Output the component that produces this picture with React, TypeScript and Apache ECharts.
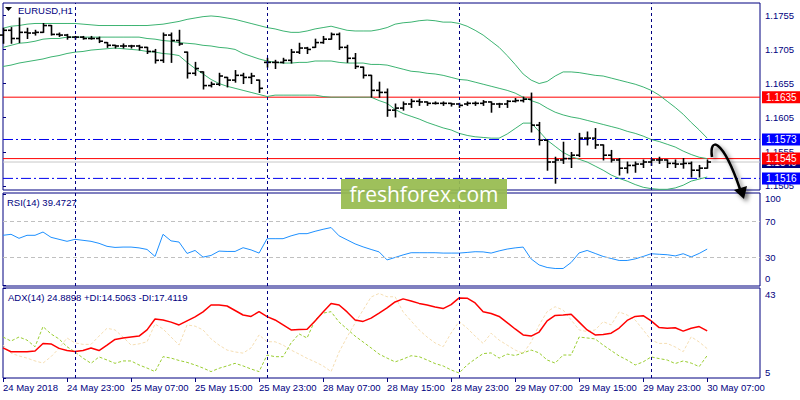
import React, { useEffect, useRef } from "react";
import * as echarts from "echarts";

const FONT = "'Liberation Sans', Arial, sans-serif";
const NAVY = "#000080";

// ---- time axis ----
const tickIndex = [0, 8, 16, 24, 32, 40, 48, 56, 64, 72, 80, 88];
const tickLabels = [
  "24 May 2018", "24 May 23:00", "25 May 07:00", "25 May 15:00", "25 May 23:00", "28 May 07:00",
  "28 May 15:00", "28 May 23:00", "29 May 07:00", "29 May 15:00", "29 May 23:00", "30 May 07:00",
];
const dayStartIndex = [9, 33, 57, 81];

// ---- price panel ----
const opens = [
  1.1726, 1.1733, 1.1721, 1.1730, 1.1729, 1.1730, 1.1740, 1.1727, 1.1726, 1.1723,
  1.1723, 1.1721, 1.1721, 1.1715, 1.1711, 1.1710, 1.1710, 1.1710, 1.1708, 1.1702,
  1.1689, 1.1726, 1.1718, 1.1701, 1.1670, 1.1672, 1.1652, 1.1654, 1.1664, 1.1660,
  1.1667, 1.1664, 1.1660, 1.1686, 1.1686, 1.1686, 1.1689, 1.1701, 1.1707, 1.1708,
  1.1715, 1.1720, 1.1727, 1.1708, 1.1692, 1.1679, 1.1667, 1.1645, 1.1642, 1.1616,
  1.1619, 1.1625, 1.1629, 1.1628, 1.1626, 1.1626, 1.1626, 1.1625, 1.1625, 1.1626,
  1.1626, 1.1628, 1.1625, 1.1625, 1.1629, 1.1630, 1.1632, 1.1594, 1.1572, 1.1540,
  1.1543, 1.1545, 1.1550, 1.1575, 1.1575, 1.1565, 1.1550, 1.1543, 1.1531, 1.1535,
  1.1537, 1.1540, 1.1543, 1.1543, 1.1538, 1.1537, 1.1538, 1.1528, 1.1531,
];
const highs = [
  1.1736, 1.1737, 1.1751, 1.1736, 1.1733, 1.1743, 1.1740, 1.1729, 1.1727, 1.1724,
  1.1724, 1.1724, 1.1723, 1.1715, 1.1711, 1.1713, 1.1711, 1.1711, 1.1708, 1.1705,
  1.1729, 1.1729, 1.1733, 1.1701, 1.1686, 1.1672, 1.1657, 1.1670, 1.1664, 1.1674,
  1.1670, 1.1670, 1.1660, 1.1692, 1.1689, 1.1692, 1.1705, 1.1714, 1.1708, 1.1720,
  1.1724, 1.1729, 1.1729, 1.1711, 1.1699, 1.1679, 1.1667, 1.1657, 1.1647, 1.1625,
  1.1628, 1.1632, 1.1632, 1.1628, 1.1628, 1.1628, 1.1626, 1.1626, 1.1628, 1.1628,
  1.1630, 1.1628, 1.1626, 1.1630, 1.1633, 1.1635, 1.1641, 1.1598, 1.1572, 1.1547,
  1.1569, 1.1554, 1.1582, 1.1584, 1.1589, 1.1565, 1.1557, 1.1545, 1.1540, 1.1540,
  1.1543, 1.1545, 1.1547, 1.1543, 1.1543, 1.1545, 1.1540, 1.1535, 1.1543,
];
const lows = [
  1.1714, 1.1714, 1.1715, 1.1721, 1.1726, 1.1730, 1.1726, 1.1724, 1.1720, 1.1720,
  1.1720, 1.1720, 1.1715, 1.1708, 1.1707, 1.1707, 1.1707, 1.1704, 1.1699, 1.1685,
  1.1686, 1.1686, 1.1711, 1.1663, 1.1667, 1.1647, 1.1650, 1.1652, 1.1650, 1.1657,
  1.1655, 1.1655, 1.1642, 1.1679, 1.1677, 1.1685, 1.1685, 1.1699, 1.1699, 1.1708,
  1.1714, 1.1720, 1.1705, 1.1686, 1.1677, 1.1663, 1.1635, 1.1635, 1.1607, 1.1606,
  1.1616, 1.1620, 1.1623, 1.1623, 1.1625, 1.1623, 1.1622, 1.1620, 1.1623, 1.1623,
  1.1623, 1.1613, 1.1620, 1.1620, 1.1628, 1.1628, 1.1584, 1.1565, 1.1528, 1.1509,
  1.1538, 1.1532, 1.1548, 1.1565, 1.1560, 1.1543, 1.1540, 1.1521, 1.1524, 1.1525,
  1.1532, 1.1535, 1.1538, 1.1532, 1.1532, 1.1531, 1.1518, 1.1518, 1.1531,
];
const closes = [
  1.1733, 1.1721, 1.1730, 1.1729, 1.1730, 1.1740, 1.1727, 1.1726, 1.1723, 1.1723,
  1.1721, 1.1721, 1.1717, 1.1711, 1.1710, 1.1710, 1.1710, 1.1708, 1.1702, 1.1689,
  1.1726, 1.1718, 1.1713, 1.1670, 1.1677, 1.1652, 1.1654, 1.1666, 1.1660, 1.1667,
  1.1664, 1.1666, 1.1648, 1.1686, 1.1686, 1.1689, 1.1701, 1.1707, 1.1705, 1.1715,
  1.1720, 1.1727, 1.1708, 1.1692, 1.1680, 1.1667, 1.1645, 1.1642, 1.1616, 1.1619,
  1.1625, 1.1629, 1.1628, 1.1626, 1.1626, 1.1626, 1.1625, 1.1623, 1.1626, 1.1626,
  1.1628, 1.1625, 1.1625, 1.1629, 1.1630, 1.1632, 1.1594, 1.1572, 1.1540, 1.1543,
  1.1545, 1.1550, 1.1575, 1.1575, 1.1565, 1.1550, 1.1543, 1.1531, 1.1535, 1.1537,
  1.1540, 1.1543, 1.1543, 1.1538, 1.1537, 1.1538, 1.1528, 1.1531, 1.1540,
];
const bbUpper = [
  1.1736, 1.1739, 1.1740, 1.1742, 1.1743, 1.1743, 1.1743, 1.1743, 1.1743, 1.1743,
  1.1742, 1.1741, 1.1740, 1.1740, 1.1740, 1.1740, 1.1740, 1.1740, 1.1740, 1.1741,
  1.1742, 1.1744, 1.1746, 1.1749, 1.1751, 1.1753, 1.1754, 1.1753, 1.1751, 1.1749,
  1.1746, 1.1743, 1.1740, 1.1737, 1.1735, 1.1732, 1.1730, 1.1730, 1.1732, 1.1735,
  1.1737, 1.1739, 1.1736, 1.1733, 1.1732, 1.1732, 1.1732, 1.1734, 1.1737, 1.1742,
  1.1744, 1.1745, 1.1747, 1.1748, 1.1747, 1.1745, 1.1745, 1.1743, 1.1739, 1.1733,
  1.1726, 1.1717, 1.1708, 1.1696, 1.1683, 1.1669, 1.1660, 1.1655, 1.1658, 1.1666,
  1.1672, 1.1672, 1.1671, 1.1669, 1.1667, 1.1666, 1.1663, 1.1660, 1.1657, 1.1654,
  1.1650, 1.1645, 1.1638, 1.1629, 1.1620, 1.1610, 1.1598, 1.1587, 1.1575,
];
const bbMiddle = [
  1.1708, 1.1711, 1.1714, 1.1715, 1.1717, 1.1720, 1.1721, 1.1721, 1.1723, 1.1723,
  1.1723, 1.1723, 1.1723, 1.1723, 1.1723, 1.1723, 1.1723, 1.1723, 1.1721, 1.1720,
  1.1718, 1.1717, 1.1715, 1.1714, 1.1713, 1.1711, 1.1710, 1.1708, 1.1707, 1.1705,
  1.1699, 1.1695, 1.1691, 1.1688, 1.1686, 1.1685, 1.1685, 1.1686, 1.1686, 1.1688,
  1.1688, 1.1688, 1.1686, 1.1685, 1.1685, 1.1685, 1.1683, 1.1683, 1.1682, 1.1679,
  1.1676, 1.1673, 1.1672, 1.1670, 1.1669, 1.1667, 1.1664, 1.1661, 1.1660, 1.1657,
  1.1654, 1.1651, 1.1648, 1.1645, 1.1641, 1.1635, 1.1630, 1.1626, 1.1619, 1.1613,
  1.1609, 1.1606, 1.1604, 1.1601, 1.1598, 1.1595, 1.1592, 1.1589, 1.1585, 1.1582,
  1.1578, 1.1573, 1.1570, 1.1566, 1.1562, 1.1556, 1.1551, 1.1547, 1.1545,
];
const bbLower = [
  1.1680, 1.1682, 1.1685, 1.1687, 1.1689, 1.1691, 1.1694, 1.1696, 1.1699, 1.1701,
  1.1702, 1.1704, 1.1705, 1.1706, 1.1707, 1.1706, 1.1705, 1.1704, 1.1702, 1.1701,
  1.1699, 1.1698, 1.1696, 1.1686, 1.1677, 1.1669, 1.1661, 1.1655, 1.1651, 1.1648,
  1.1645, 1.1642, 1.1639, 1.1636, 1.1638, 1.1638, 1.1638, 1.1638, 1.1638, 1.1638,
  1.1636, 1.1635, 1.1635, 1.1635, 1.1635, 1.1635, 1.1635, 1.1630, 1.1626, 1.1617,
  1.1611, 1.1607, 1.1603, 1.1598, 1.1594, 1.1590, 1.1587, 1.1582, 1.1579, 1.1577,
  1.1576, 1.1575, 1.1575, 1.1581, 1.1589, 1.1597, 1.1597, 1.1585, 1.1572, 1.1563,
  1.1554, 1.1548, 1.1544, 1.1540, 1.1534, 1.1528, 1.1521, 1.1516, 1.1512, 1.1507,
  1.1503, 1.1501, 1.1500, 1.1500, 1.1502, 1.1506, 1.1512, 1.1515, 1.1518,
];
const priceTicks = [1.1505, 1.1555, 1.1605, 1.1655, 1.1705, 1.1755];
const redLevels = [1.1635, 1.1545];
const blueLevels = [1.1573, 1.1516];
const bidPrice = 1.154;
const trendPrice = 1.1573;
const trendStartIndex = 62.5;

// ---- RSI(14) ----
const rsi = [
  54.6, 55.7, 51.3, 54.6, 54.6, 58.2, 52.4, 50.2, 48.0, 50.2,
  49.1, 48.0, 45.8, 42.5, 41.3, 41.7, 41.7, 40.8, 39.1, 31.4,
  55.7, 48.5, 47.2, 34.7, 38.0, 30.7, 32.5, 37.3, 36.9, 36.9,
  41.0, 38.6, 35.1, 50.9, 50.9, 50.9, 54.0, 56.4, 56.4, 59.0,
  61.2, 63.1, 54.0, 49.6, 45.2, 41.9, 39.1, 36.4, 27.6, 30.3,
  33.1, 35.5, 35.5, 35.5, 35.5, 35.1, 35.1, 35.1, 35.8, 36.6,
  36.4, 35.1, 37.5, 39.5, 40.8, 41.7, 28.7, 22.1, 19.3, 18.2,
  18.2, 24.8, 35.3, 38.0, 34.7, 31.4, 29.2, 27.0, 27.0, 28.7,
  31.4, 34.4, 33.8, 33.3, 32.0, 34.4, 30.9, 34.7, 39.5,
];
const rsiTicks = [0, 30, 70, 100];
const rsiLevels = [30, 70];

// ---- ADX(14) ----
const adx = [
  17.7, 16.1, 16.1, 16.1, 16.4, 19.6, 19.4, 17.5, 16.6, 16.2,
  16.6, 17.7, 16.6, 18.9, 21.3, 21.9, 22.3, 22.7, 25.3, 29.9,
  29.5, 28.6, 27.4, 29.1, 30.8, 32.9, 35.8, 35.8, 35.4, 33.5,
  31.6, 31.0, 33.0, 30.9, 29.5, 27.4, 25.3, 25.5, 25.6, 29.1,
  32.9, 36.5, 35.8, 32.9, 29.5, 28.9, 30.3, 32.4, 34.6, 37.1,
  38.4, 37.5, 36.5, 35.8, 35.0, 34.3, 36.0, 38.8, 38.7, 36.7,
  33.0, 32.2, 31.0, 28.4, 25.7, 23.2, 22.7, 24.4, 29.1, 31.4,
  31.6, 31.9, 28.6, 25.3, 23.2, 23.4, 23.9, 26.1, 29.3, 31.0,
  31.3, 29.1, 26.3, 26.0, 26.2, 24.8, 26.0, 26.7, 24.9,
];
const plusDI = [
  22.3, 20.6, 22.3, 21.0, 18.2, 26.7, 23.6, 21.5, 18.2, 16.0,
  13.4, 11.2, 13.9, 12.6, 11.2, 12.2, 12.2, 10.5, 9.2, 7.7,
  14.0, 13.4, 12.4, 11.6, 10.5, 9.2, 7.7, 9.1, 10.1, 11.2,
  10.1, 8.8, 7.7, 14.7, 14.0, 14.0, 19.8, 23.6, 21.9, 29.5,
  32.4, 33.0, 28.6, 25.7, 22.7, 20.2, 17.7, 15.1, 13.4, 11.8,
  13.0, 14.4, 14.0, 12.6, 11.1, 10.1, 8.4, 7.1, 10.5, 13.0,
  15.3, 15.6, 13.4, 15.1, 14.5, 15.6, 16.8, 15.6, 12.6, 11.3,
  14.7, 14.7, 22.3, 21.9, 21.5, 18.9, 16.6, 14.3, 12.6, 10.5,
  11.8, 13.9, 13.2, 12.6, 11.1, 12.2, 11.3, 9.8, 14.5,
];
const minusDI = [
  18.9, 15.5, 14.3, 13.4, 12.2, 11.3, 14.0, 17.5, 21.9, 19.8,
  19.2, 19.2, 22.7, 26.0, 25.3, 22.3, 18.9, 19.4, 20.3, 27.8,
  25.7, 22.3, 18.9, 27.4, 26.9, 25.3, 21.5, 18.9, 16.8, 16.0,
  15.5, 17.7, 23.2, 20.3, 20.3, 18.9, 16.8, 15.1, 13.3, 11.8,
  10.1, 7.7, 16.0, 22.3, 28.2, 33.7, 39.2, 40.7, 39.3, 39.3,
  32.9, 29.1, 25.3, 22.3, 19.8, 18.2, 24.0, 28.8, 26.1, 22.7,
  19.6, 23.9, 21.0, 18.9, 16.8, 15.4, 20.2, 27.4, 33.0, 35.1,
  33.7, 29.5, 25.3, 24.6, 25.3, 28.8, 27.4, 32.9, 31.6, 29.5,
  25.3, 21.0, 19.6, 19.6, 18.1, 16.1, 22.4, 20.2, 17.4,
];
const adxTicks = [5, 43];

const X_MAX = 94.6;

const pairs = (arr: number[]) => arr.map((v, i) => [i, v]);

const vLines = (gridIdx: number) => ({
  type: "line",
  xAxisIndex: gridIdx,
  yAxisIndex: gridIdx,
  data: [],
  z: 1,
  silent: true,
  markLine: {
    silent: true,
    precision: 5,
    symbol: ["none", "none"],
    label: { show: false },
    lineStyle: { color: NAVY, type: [3, 3], width: 1 },
    data: dayStartIndex.map((v) => ({ xAxis: v })),
  },
});

// horizontal price level drawn as a two-point line series with a value box at its end
const levelSeries = (value: number, lineColor: string, lineType: any, boxColor: string, z: number) => ({
  type: "line",
  xAxisIndex: 0,
  yAxisIndex: 0,
  data: [[0, value], [X_MAX, value]],
  z,
  silent: true,
  showSymbol: false,
  symbol: "none",
  color: lineColor,
  lineStyle: { color: lineColor, type: lineType, width: 1 },
  endLabel: {
    show: true,
    distance: 2,
    formatter: () => value.toFixed(4),
    color: "#ffffff",
    backgroundColor: boxColor,
    fontFamily: FONT,
    fontSize: 10,
    lineHeight: 11,
    padding: [1, 12, 0, 4],
  },
});

const xAxisBase = (gridIndex: number, showLabels: boolean) => ({
  type: "value",
  gridIndex,
  min: 0,
  max: X_MAX,
  splitLine: { show: false },
  axisLine: { show: false },
  axisTick: showLabels
    ? { show: true, customValues: tickIndex, length: 4, lineStyle: { color: NAVY } }
    : { show: false },
  axisLabel: showLabels
    ? {
        show: true,
        customValues: tickIndex,
        formatter: (v: number) => tickLabels[tickIndex.indexOf(Math.round(v))] ?? "",
        align: "left",
        margin: 4,
        color: NAVY,
        fontFamily: FONT,
        fontSize: 9.5,
      }
    : { show: false },
});

const App: React.FC = () => {
  const ref = useRef<HTMLDivElement>(null);

  useEffect(() => {
    if (!ref.current) return;
    const chart = echarts.init(ref.current, undefined, { renderer: "svg" });

    const gridStyle = { show: true, borderColor: NAVY, borderWidth: 1, backgroundColor: "#ffffff" };
    const axisLabelStyle = { color: NAVY, fontFamily: FONT, fontSize: 9.5, margin: 5 };

    const option: any = {
      animation: false,
      backgroundColor: "#ffffff",
      grid: [
        { left: 3, right: 40, top: 3, height: 187, ...gridStyle },
        { left: 3, right: 40, top: 193, height: 93, ...gridStyle },
        { left: 3, right: 40, top: 288, height: 90, ...gridStyle },
      ],
      xAxis: [xAxisBase(0, false), xAxisBase(1, false), xAxisBase(2, true)],
      yAxis: [
        {
          type: "value",
          gridIndex: 0,
          position: "right",
          min: 1.1499,
          max: 1.1773,
          splitLine: { show: false },
          axisLine: { show: false },
          axisTick: { show: true, customValues: priceTicks, length: 3, lineStyle: { color: NAVY } },
          axisLabel: { ...axisLabelStyle, customValues: priceTicks, formatter: (v: number) => v.toFixed(4) },
        },
        {
          type: "value",
          gridIndex: 1,
          position: "right",
          min: -1,
          max: 101,
          splitLine: { show: false },
          axisLine: { show: false },
          axisTick: { show: true, customValues: rsiTicks, length: 3, lineStyle: { color: NAVY } },
          axisLabel: {
            ...axisLabelStyle,
            customValues: rsiTicks,
            formatter: (v: number) => (v === 100 ? "{t|100}" : v === 0 ? "{b|0}" : String(v)),
            rich: {
              t: { padding: [10, 0, 0, 0], color: NAVY, fontFamily: FONT, fontSize: 9.5 },
              b: { padding: [0, 0, 14, 0], color: NAVY, fontFamily: FONT, fontSize: 9.5 },
            },
          },
        },
        {
          type: "value",
          gridIndex: 2,
          position: "right",
          min: 5,
          max: 43,
          splitLine: { show: false },
          axisLine: { show: false },
          axisTick: { show: true, customValues: adxTicks, length: 3, lineStyle: { color: NAVY } },
          axisLabel: {
            ...axisLabelStyle,
            customValues: adxTicks,
            formatter: (v: number) => (v === 43 ? "{t|43}" : v === 5 ? "{b|5}" : String(v)),
            rich: {
              t: { padding: [12, 0, 0, 0], color: NAVY, fontFamily: FONT, fontSize: 9.5 },
              b: { padding: [0, 0, 12, 0], color: NAVY, fontFamily: FONT, fontSize: 9.5 },
            },
          },
        },
      ],
      series: [
        vLines(0),
        vLines(1),
        vLines(2),
        // level lines (price panel)
        levelSeries(blueLevels[0], "#0000ee", [10, 3, 2, 3], "#0000ff", 2),
        levelSeries(blueLevels[1], "#0000ee", [10, 3, 2, 3], "#0000ff", 2),
        levelSeries(bidPrice, "#c8c8c8", "solid", NAVY, 2),
        levelSeries(redLevels[0], "#ff0000", "solid", "#ff0000", 2),
        levelSeries(redLevels[1], "#ff0000", "solid", "#ff0000", 2),
        // Bollinger bands
        ...[bbUpper, bbMiddle, bbLower].map((arr) => ({
          type: "line",
          xAxisIndex: 0,
          yAxisIndex: 0,
          data: pairs(arr),
          showSymbol: false,
          symbol: "none",
          z: 3,
          silent: true,
          lineStyle: { color: "#3cb371", width: 1 },
        })),
        // OHLC bars
        {
          type: "custom",
          xAxisIndex: 0,
          yAxisIndex: 0,
          z: 4,
          silent: true,
          data: opens.map((o, i) => [i, o, highs[i], lows[i], closes[i]]),
          encode: { x: 0, y: [1, 2, 3, 4] },
          renderItem: (params: any, api: any) => {
            const i = api.value(0);
            const o = api.coord([i, api.value(1)]);
            const h = api.coord([i, api.value(2)]);
            const l = api.coord([i, api.value(3)]);
            const c = api.coord([i, api.value(4)]);
            const x = Math.round(o[0]) + 0.5;
            const st = { stroke: "#000000", lineWidth: 1.6 };
            return {
              type: "group",
              children: [
                { type: "line", shape: { x1: x, y1: h[1] - 0.5, x2: x, y2: l[1] + 0.5 }, style: st },
                { type: "line", shape: { x1: x - 3.5, y1: o[1], x2: x, y2: o[1] }, style: st },
                { type: "line", shape: { x1: x, y1: c[1], x2: x + 3.5, y2: c[1] }, style: st },
              ],
            };
          },
        },
        // trend line with shadow
        {
          type: "line",
          xAxisIndex: 0,
          yAxisIndex: 0,
          data: [[trendStartIndex, trendPrice], [X_MAX, trendPrice]],
          z: 5,
          silent: true,
          showSymbol: false,
          symbol: "none",
          lineStyle: {
            color: "#1515a0",
            width: 1.5,
            type: "solid",
            shadowColor: "rgba(0,0,0,0.45)",
            shadowBlur: 5,
            shadowOffsetY: 3,
          },
        },
        // RSI
        {
          type: "line",
          xAxisIndex: 1,
          yAxisIndex: 1,
          data: pairs(rsi),
          showSymbol: false,
          symbol: "none",
          z: 3,
          silent: true,
          lineStyle: { color: "#1e90ff", width: 1 },
          markLine: {
            silent: true,
            precision: 3,
            symbol: ["none", "none"],
            label: { show: false },
            lineStyle: { color: "#c0c0c0", type: [4, 3], width: 1 },
            data: rsiLevels.map((v) => ({ yAxis: v })),
          },
        },
        // ADX / DI
        {
          type: "line",
          xAxisIndex: 2,
          yAxisIndex: 2,
          data: pairs(minusDI),
          showSymbol: false,
          symbol: "none",
          z: 3,
          silent: true,
          lineStyle: { color: "#f5deb3", width: 1, type: [3, 2] },
        },
        {
          type: "line",
          xAxisIndex: 2,
          yAxisIndex: 2,
          data: pairs(plusDI),
          showSymbol: false,
          symbol: "none",
          z: 3,
          silent: true,
          lineStyle: { color: "#9acd32", width: 1, type: [3, 2] },
        },
        {
          type: "line",
          xAxisIndex: 2,
          yAxisIndex: 2,
          data: pairs(adx),
          showSymbol: false,
          symbol: "none",
          z: 4,
          silent: true,
          lineStyle: { color: "#ff0000", width: 1.5 },
        },
      ],
      graphic: [
        {
          type: "polygon",
          shape: { points: [[5, 7], [12, 7], [8.5, 11]] },
          style: { fill: "#000000" },
          z: 50,
        },
        {
          type: "text",
          x: 18,
          y: 10,
          style: { text: "EURUSD,H1", fill: NAVY, font: `9.5px ${FONT}`, verticalAlign: "middle" },
          z: 50,
        },
        {
          type: "text",
          x: 7,
          y: 202,
          style: { text: "RSI(14) 39.4727", fill: NAVY, font: `9.5px ${FONT}`, verticalAlign: "middle" },
          z: 50,
        },
        {
          type: "text",
          x: 8,
          y: 297,
          style: {
            text: "ADX(14) 24.8898 +DI:14.5063 -DI:17.4119",
            fill: NAVY,
            font: `9.5px ${FONT}`,
            verticalAlign: "middle",
          },
          z: 50,
        },
        {
          type: "rect",
          shape: { x: 341, y: 179, width: 166, height: 30 },
          style: { fill: "#97bb4f", opacity: 0.93 },
          z: 100,
        },
        {
          type: "text",
          x: 424,
          y: 194,
          style: {
            text: "freshforex.com",
            fill: "#ffffff",
            font: "21px 'Open Sans', sans-serif",
            align: "center",
            verticalAlign: "middle",
          },
          z: 101,
        },
        {
          type: "bezierCurve",
          shape: { x1: 712, y1: 157, cpx1: 709, cpy1: 137, cpx2: 722, cpy2: 137, x2: 740, y2: 189 },
          style: {
            stroke: "#000000",
            fill: null,
            lineWidth: 2.5,
            shadowBlur: 4,
            shadowOffsetX: 3,
            shadowOffsetY: 3,
            shadowColor: "rgba(0,0,0,0.5)",
          },
          z: 110,
        },
        {
          type: "polygon",
          shape: { points: [[744, 199], [747, 186], [734, 190]] },
          style: {
            fill: "#000000",
            shadowBlur: 4,
            shadowOffsetX: 3,
            shadowOffsetY: 3,
            shadowColor: "rgba(0,0,0,0.5)",
          },
          z: 110,
        },
      ],
    };

    chart.setOption(option);
    return () => chart.dispose();
  }, []);

  return (
    <div
      ref={ref}
      style={{ position: "fixed", left: 0, top: 0, width: 800, height: 400, background: "#fff" }}
    />
  );
};

export default App;
